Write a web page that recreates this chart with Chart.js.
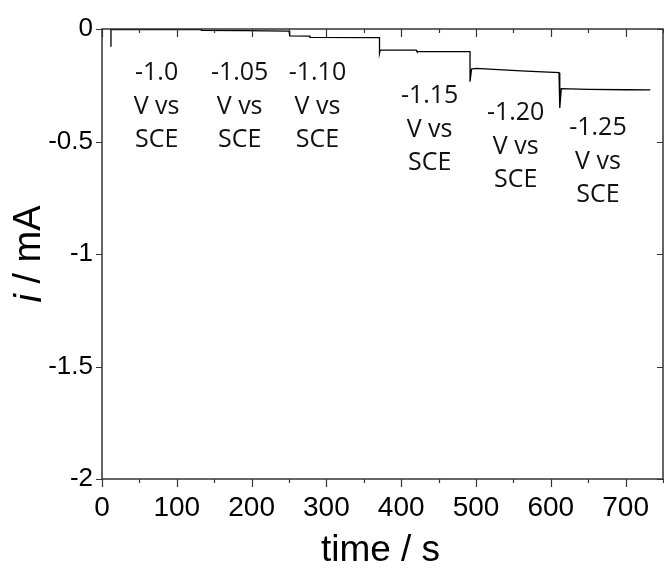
<!DOCTYPE html>
<html>
<head>
<meta charset="utf-8">
<script src="https://cdn.jsdelivr.net/npm/chart.js@4/dist/chart.umd.min.js"></script>
<style>
  html, body { margin: 0; padding: 0; background: #fff; }
  #wrap { width: 664px; height: 571px; }
</style>
</head>
<body>
<div id="wrap"><canvas id="chrono"></canvas></div>
<script>
// chronoamperometry trace
const timeS = [12, 12, 60, 133, 133, 190, 250, 251, 251, 278, 278, 369, 371, 371, 372, 420, 421, 491, 492, 492, 494, 500, 560, 611, 612, 612, 614, 650, 700, 733];
const currentMA = [-0.079, -0.003, -0.003, -0.003, -0.006, -0.007, -0.009, -0.01, -0.031, -0.032, -0.037, -0.038, -0.038, -0.108, -0.093, -0.094, -0.1, -0.101, -0.101, -0.234, -0.178, -0.175, -0.186, -0.194, -0.194, -0.351, -0.265, -0.268, -0.27, -0.271];

const xTicks = [0, 100, 200, 300, 400, 500, 600, 700];
const yTicks = [0, -0.5, -1, -1.5, -2];

const potentials = ['-1.0', '-1.05', '-1.10', '-1.15', '-1.20', '-1.25'];
// where each potential label sits (time, current of first line)
const labelAt = [[73, -0.196], [184, -0.196], [288, -0.196], [438, -0.298], [553, -0.373], [663, -0.44]];

const points = timeS.map((t, k) => ({ x: t, y: currentMA[k] }));

const frameAndText = {
  id: 'frameAndText',
  afterDraw(chart) {
    const { ctx, chartArea: a, scales: { x, y } } = chart;
    ctx.save();
    ctx.strokeStyle = '#333';
    ctx.lineWidth = 1.5;
    ctx.strokeRect(a.left, a.top, a.right - a.left, a.bottom - a.top);

    ctx.lineWidth = 1.2;
    ctx.beginPath();
    for (let t = 0; t <= 750; t += 50) {
      const px = Math.round(x.getPixelForValue(t)) + 0.5;
      const len = t % 100 === 0 ? 8 : 4;
      ctx.moveTo(px, a.bottom); ctx.lineTo(px, a.bottom + len);
      ctx.moveTo(px, a.top); ctx.lineTo(px, a.top + len);
    }
    yTicks.forEach(v => {
      const py = Math.round(y.getPixelForValue(v)) + 0.5;
      ctx.moveTo(a.left, py); ctx.lineTo(a.left - 6, py);
      ctx.moveTo(a.right, py); ctx.lineTo(a.right - 6, py);
    });
    ctx.stroke();

    // potential labels
    ctx.fillStyle = '#111';
    ctx.font = '25px "Open Sans"';
    ctx.textAlign = 'center';
    ctx.textBaseline = 'middle';
    potentials.forEach((p, k) => {
      const cx = x.getPixelForValue(labelAt[k][0]);
      const cy = y.getPixelForValue(labelAt[k][1]);
      [p, 'V vs', 'SCE'].forEach((s, j) => ctx.fillText(s, cx, cy + j * 33.5));
    });

    // axis titles
    ctx.fillStyle = '#000';
    ctx.font = '37px "Liberation Sans"';
    ctx.fillText('time / s', (a.left + a.right) / 2 - 2, 551);

    ctx.translate(30, (a.top + a.bottom) / 2);
    ctx.rotate(-Math.PI / 2);
    ctx.textAlign = 'left';
    ctx.font = 'italic 38px "Liberation Sans"';
    const w1 = ctx.measureText('i').width;
    ctx.font = '38px "Liberation Sans"';
    const w2 = ctx.measureText(' / mA').width;
    const x0 = -(w1 + w2) / 2;
    ctx.font = 'italic 38px "Liberation Sans"';
    ctx.fillText('i', x0, 0);
    ctx.font = '38px "Liberation Sans"';
    ctx.fillText(' / mA', x0 + w1, 0);
    ctx.restore();
  }
};

new Chart(document.getElementById('chrono'), {
  type: 'scatter',
  data: {
    datasets: [{
      data: points,
      showLine: true,
      borderColor: '#000',
      borderWidth: 1.3,
      pointRadius: 0,
      tension: 0
    }]
  },
  options: {
    responsive: true,
    maintainAspectRatio: false,
    animation: false,
    layout: { padding: { top: 29, right: 1, left: 0, bottom: 0 } },
    plugins: { legend: { display: false }, tooltip: { enabled: false } },
    scales: {
      x: {
        type: 'linear',
        min: 0,
        max: 750,
        afterFit: s => { s.height = 92; },
        afterBuildTicks: s => { s.ticks = xTicks.map(v => ({ value: v })); },
        grid: { display: false, drawTicks: false },
        border: { display: false },
        ticks: {
          padding: 12,
          color: '#000',
          font: { family: 'Liberation Sans', size: 28 },
          callback: v => String(v)
        }
      },
      y: {
        type: 'linear',
        min: -2,
        max: 0,
        afterFit: s => { s.width = 102; },
        afterBuildTicks: s => { s.ticks = yTicks.map(v => ({ value: v })); },
        grid: { display: false, drawTicks: false },
        border: { display: false },
        ticks: {
          padding: 9,
          color: '#000',
          font: { family: 'Liberation Sans', size: 26 },
          callback: v => String(v)
        }
      }
    }
  },
  plugins: [frameAndText]
});
</script>
</body>
</html>
